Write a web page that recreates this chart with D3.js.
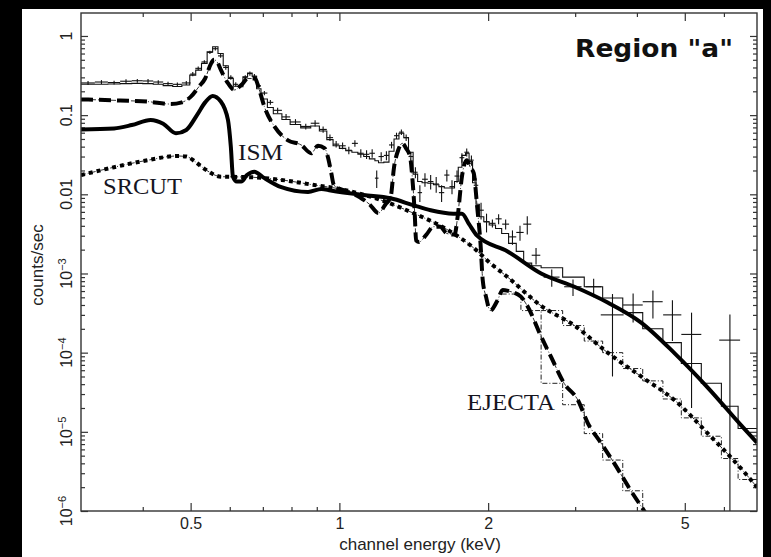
<!DOCTYPE html>
<html>
<head>
<meta charset="utf-8">
<script src="https://cdn.jsdelivr.net/npm/d3@7"></script>
<style>
  html, body { margin: 0; padding: 0; background: #000; }
  svg { display: block; }
</style>
</head>
<body>
<div id="chart"></div>
<script>
// observed spectrum: [energy keV, half bin width, counts/sec, error]
const dataPoints = [
  [0.31, 0.01, 0.255, 0.015], [0.33, 0.01, 0.262, 0.015], [0.35, 0.01, 0.258, 0.014],
  [0.37, 0.01, 0.268, 0.015], [0.39, 0.01, 0.272, 0.015], [0.41, 0.01, 0.270, 0.015],
  [0.43, 0.01, 0.262, 0.014], [0.45, 0.01, 0.250, 0.014], [0.47, 0.01, 0.245, 0.014],
  [0.49, 0.01, 0.255, 0.014], [0.505, 0.006, 0.33, 0.02], [0.518, 0.007, 0.39, 0.02],
  [0.533, 0.007, 0.47, 0.025], [0.547, 0.007, 0.62, 0.03], [0.561, 0.007, 0.69, 0.035],
  [0.575, 0.007, 0.56, 0.03], [0.589, 0.007, 0.40, 0.025], [0.603, 0.007, 0.30, 0.02],
  [0.617, 0.007, 0.245, 0.015], [0.631, 0.007, 0.235, 0.015], [0.645, 0.007, 0.30, 0.02],
  [0.659, 0.007, 0.335, 0.02], [0.673, 0.007, 0.31, 0.02], [0.687, 0.007, 0.235, 0.015],
  [0.705, 0.01, 0.19, 0.012], [0.725, 0.01, 0.145, 0.01], [0.75, 0.015, 0.115, 0.009],
  [0.78, 0.015, 0.095, 0.008], [0.815, 0.02, 0.082, 0.007], [0.855, 0.02, 0.072, 0.006],
  [0.893, 0.018, 0.079, 0.007], [0.927, 0.016, 0.066, 0.006], [0.957, 0.014, 0.052, 0.005],
  [0.985, 0.014, 0.043, 0.004], [1.015, 0.015, 0.041, 0.004], [1.045, 0.015, 0.036, 0.004],
  [1.075, 0.015, 0.044, 0.004], [1.105, 0.015, 0.033, 0.004], [1.135, 0.015, 0.032, 0.004],
  [1.165, 0.015, 0.033, 0.004], [1.19, 0.01, 0.016, 0.004], [1.215, 0.015, 0.030, 0.004],
  [1.245, 0.015, 0.031, 0.004], [1.275, 0.015, 0.042, 0.004], [1.305, 0.015, 0.055, 0.005],
  [1.335, 0.015, 0.061, 0.005], [1.365, 0.015, 0.052, 0.005], [1.395, 0.015, 0.030, 0.004],
  [1.425, 0.015, 0.019, 0.003], [1.455, 0.015, 0.0105, 0.0025], [1.49, 0.02, 0.0155, 0.003],
  [1.53, 0.02, 0.0145, 0.003], [1.57, 0.02, 0.0135, 0.003], [1.61, 0.02, 0.0105, 0.0025],
  [1.65, 0.02, 0.0175, 0.003], [1.69, 0.02, 0.0125, 0.0025], [1.73, 0.02, 0.017, 0.003],
  [1.77, 0.02, 0.029, 0.004], [1.81, 0.02, 0.034, 0.004], [1.85, 0.02, 0.027, 0.004],
  [1.89, 0.02, 0.013, 0.003], [1.935, 0.025, 0.0063, 0.0015], [1.985, 0.025, 0.0045, 0.0012],
  [2.04, 0.03, 0.0043, 0.0005], [2.10, 0.03, 0.0049, 0.0007], [2.17, 0.035, 0.0042, 0.0006],
  [2.24, 0.04, 0.0029, 0.0006], [2.32, 0.04, 0.0033, 0.0007], [2.40, 0.045, 0.0042, 0.0011],
  [2.50, 0.05, 0.0017, 0.0004], [2.69, 0.10, 0.0009, 0.00022], [2.97, 0.12, 0.00068, 0.00016],
  [3.27, 0.12, 0.00068, 0.00018], [3.57, 0.19, 0.0003, 0.00025], [3.93, 0.18, 0.0004, 0.00016],
  [4.31, 0.2, 0.00044, 0.00017], [4.72, 0.2, 0.0003, 0.00016], [5.16, 0.24, 0.00017, 0.00015],
  [6.17, 0.3, 0.000144, 0.00016]
];

// folded total model, histogram
const modelEdges = [
  0.30, 0.32, 0.34, 0.36, 0.38, 0.40, 0.42, 0.44, 0.46, 0.48,
  0.498, 0.512, 0.526, 0.54, 0.554, 0.568, 0.582, 0.596, 0.61, 0.624, 0.638, 0.652, 0.666, 0.68, 0.694,
  0.715, 0.735, 0.765, 0.795, 0.835, 0.875, 0.911, 0.943, 0.971, 1.0,
  1.03, 1.06, 1.09, 1.12, 1.15, 1.18, 1.20, 1.23, 1.26, 1.29,
  1.32, 1.35, 1.38, 1.41, 1.44, 1.47, 1.51, 1.55, 1.59, 1.63,
  1.67, 1.71, 1.74, 1.77, 1.80, 1.83, 1.86, 1.89, 1.92, 1.96,
  2.01, 2.07, 2.13, 2.20, 2.28, 2.36, 2.45, 2.56,
  2.83, 3.13, 3.41, 3.745, 4.11, 4.515, 4.92, 5.40, 5.93, 6.41, 7.0
];
const modelValues = [
  0.245, 0.245, 0.247, 0.250, 0.252, 0.250, 0.245, 0.236, 0.230, 0.240,
  0.32, 0.37, 0.45, 0.63, 0.73, 0.60, 0.42, 0.29, 0.232, 0.228, 0.305, 0.34, 0.31, 0.215,
  0.16, 0.125, 0.104, 0.088, 0.076, 0.069, 0.073, 0.063, 0.049, 0.041,
  0.038, 0.0355, 0.034, 0.032, 0.030, 0.028, 0.0265, 0.025, 0.0255, 0.035,
  0.050, 0.059, 0.052, 0.034, 0.018, 0.0145, 0.014, 0.0138, 0.0132, 0.0125,
  0.012, 0.012, 0.0145, 0.022, 0.031, 0.033, 0.026, 0.014, 0.0075, 0.0052,
  0.0045, 0.0041, 0.0037, 0.0032, 0.0024, 0.0019, 0.00135, 0.00125,
  0.00118, 0.0009, 0.00068, 0.00049, 0.00032, 0.0002, 0.000134, 0.000073, 0.000041, 0.000021, 0.000011
];

// model components: [energy keV, counts/sec]
const ismCurve = [
  [0.30, 0.066], [0.35, 0.068], [0.38, 0.075], [0.415, 0.087], [0.44, 0.078], [0.467, 0.059],
  [0.49, 0.065], [0.515, 0.10], [0.535, 0.145], [0.554, 0.175], [0.575, 0.15], [0.595, 0.087],
  [0.603, 0.04], [0.609, 0.0167], [0.62, 0.0145], [0.633, 0.0145], [0.65, 0.0175], [0.673, 0.0193],
  [0.70, 0.0165], [0.763, 0.0123], [0.864, 0.0107], [0.92, 0.0117], [0.96, 0.0112], [1.12, 0.0098],
  [1.27, 0.0089], [1.41, 0.0073], [1.53, 0.0063], [1.70, 0.0057], [1.77, 0.0057], [1.83, 0.0042],
  [1.90, 0.0030], [2.19, 0.0019], [2.56, 0.001], [2.99, 0.00068], [3.49, 0.00043], [4.08, 0.00024],
  [4.77, 0.000098], [5.57, 0.000036], [6.51, 0.000012], [7.0, 0.0000073]
];
const ejectaCurve = [
  [0.30, 0.158], [0.36, 0.153], [0.41, 0.148], [0.456, 0.138], [0.48, 0.145], [0.50, 0.170],
  [0.52, 0.23], [0.535, 0.29], [0.55, 0.45], [0.558, 0.50], [0.567, 0.46], [0.576, 0.37],
  [0.595, 0.253], [0.613, 0.208], [0.633, 0.24], [0.653, 0.29], [0.674, 0.29], [0.69, 0.20],
  [0.705, 0.128], [0.74, 0.071], [0.787, 0.048], [0.837, 0.042], [0.877, 0.033], [0.905, 0.041],
  [0.934, 0.038], [0.95, 0.028], [0.963, 0.0185], [0.975, 0.013], [1.03, 0.011], [1.10, 0.0092],
  [1.15, 0.0075], [1.20, 0.0058], [1.24, 0.0075], [1.27, 0.0093], [1.29, 0.022], [1.315, 0.036],
  [1.34, 0.044], [1.365, 0.038], [1.39, 0.030], [1.405, 0.016], [1.42, 0.006], [1.43, 0.0026],
  [1.45, 0.0025], [1.50, 0.0031], [1.55, 0.0039], [1.60, 0.0039], [1.65, 0.0032], [1.71, 0.0031],
  [1.735, 0.0052], [1.77, 0.0167], [1.81, 0.027], [1.84, 0.022], [1.87, 0.0185], [1.90, 0.007],
  [1.93, 0.0024], [1.95, 0.00083], [1.98, 0.00051], [2.02, 0.00034], [2.09, 0.00046], [2.14, 0.00062],
  [2.20, 0.0006], [2.33, 0.00051], [2.40, 0.00039], [2.56, 0.00016], [2.68, 0.000089], [2.85, 0.000041],
  [3.04, 0.000025], [3.18, 0.000013], [3.38, 0.0000073], [3.60, 0.000004], [3.89, 0.0000018],
  [4.14, 0.000001], [4.3, 0.0000007]
];
const srcutCurve = [
  [0.30, 0.0175], [0.35, 0.022], [0.41, 0.027], [0.47, 0.0305], [0.49, 0.030], [0.51, 0.026],
  [0.533, 0.021], [0.576, 0.0167], [0.653, 0.0165], [0.763, 0.0152], [0.89, 0.0131], [0.994, 0.0118],
  [1.21, 0.0085], [1.41, 0.0058], [1.65, 0.0036], [1.87, 0.0021], [2.02, 0.00135], [2.19, 0.0009],
  [2.56, 0.00039], [2.99, 0.00022], [3.49, 0.0001], [4.08, 0.00005], [4.77, 0.000025],
  [5.57, 0.0000095], [6.51, 0.0000034], [7.0, 0.000002]
];

// folded component histograms (thin dash-dot)
const ejectaStepEdges = [2.13, 2.33, 2.56, 2.83, 3.13, 3.41, 3.745, 4.11, 4.515];
const ejectaStepValues = [0.00055, 0.00034, 0.000041, 0.000022, 0.0000095, 0.0000044, 0.0000018, 0.0000005];
const srcutStepEdges = [2.56, 2.83, 3.13, 3.41, 3.745, 4.11, 4.515, 4.92, 5.40, 5.93, 6.41, 7.0];
const srcutStepValues = [0.00034, 0.00022, 0.00014, 0.0001, 0.000063, 0.000044, 0.000026, 0.000015, 0.0000088, 0.0000046, 0.0000025];

const xMajorTicks = [0.5, 1, 2, 5];
const xMinorTicks = [0.4, 0.6, 0.7, 0.8, 0.9, 3, 4, 6];
const yMajorTicks = [1, 0.1, 0.01, 1e-3, 1e-4, 1e-5, 1e-6];
const yTickBase = ["1", "0.1", "0.01", "10", "10", "10", "10"];
const yTickExp = ["", "", "", "\u22123", "\u22124", "\u22125", "\u22126"];

const W = 771, H = 557;
const margin = { top: 13, right: 14, bottom: 46, left: 81 };
const width = W - margin.left - margin.right;
const height = H - margin.top - margin.bottom;
const sans = "'Liberation Sans', Arial, sans-serif";
const serif = "'Liberation Serif', 'Times New Roman', serif";

const svg = d3.select("#chart").append("svg")
  .attr("width", W)
  .attr("height", H);

svg.append("rect").attr("width", W).attr("height", H).attr("fill", "#000");
svg.append("rect").attr("x", 22).attr("y", 9).attr("width", 741).attr("height", 548).attr("fill", "#fff");

const g = svg.append("g").attr("transform", `translate(${margin.left},${margin.top})`);

const x = d3.scaleLog().domain([0.3, 7]).range([0, width]);
const y = d3.scaleLog().domain([1e-6, 1.95]).range([height, 0]);

g.append("clipPath").attr("id", "plot-clip")
  .append("rect").attr("width", width).attr("height", height);

// minor y ticks 2..9 per decade
const yMinorTicks = [];
for (let e = -6; e <= 0; e++) {
  for (let m = 2; m <= 9; m++) {
    const v = m * Math.pow(10, e);
    if (v < 1.95) yMinorTicks.push(v);
  }
}

function tickAxis(axis, transform) {
  const a = g.append("g")
    .attr("transform", transform)
    .style("color", "#333")
    .call(axis);
  a.select(".domain").remove();
  a.selectAll(".tick line").attr("stroke-width", 1.2);
  return a;
}

const xAxis = tickAxis(d3.axisBottom(x).tickValues(xMajorTicks).tickSize(-8).tickSizeOuter(0)
  .tickPadding(7).tickFormat(d3.format("")), `translate(0,${height})`);
xAxis.selectAll("text")
  .style("font-family", sans)
  .style("font-size", "16px")
  .attr("fill", "#222");
tickAxis(d3.axisBottom(x).tickValues(xMinorTicks).tickSize(-4).tickFormat(""), `translate(0,${height})`);
tickAxis(d3.axisTop(x).tickValues(xMajorTicks).tickSize(-8).tickFormat(""), "translate(0,0)");
tickAxis(d3.axisTop(x).tickValues(xMinorTicks).tickSize(-4).tickFormat(""), "translate(0,0)");
tickAxis(d3.axisLeft(y).tickValues(yMajorTicks).tickSize(-7).tickFormat(""), "translate(0,0)");
tickAxis(d3.axisLeft(y).tickValues(yMinorTicks).tickSize(-4).tickFormat(""), "translate(0,0)");
tickAxis(d3.axisRight(y).tickValues(yMajorTicks).tickSize(-7).tickFormat(""), `translate(${width},0)`);
tickAxis(d3.axisRight(y).tickValues(yMinorTicks).tickSize(-4).tickFormat(""), `translate(${width},0)`);

// rotated y tick labels
yMajorTicks.forEach((v, i) => {
  const t = g.append("text")
    .attr("transform", `translate(-9.5,${y(v)}) rotate(-90)`)
    .attr("text-anchor", "middle")
    .style("font-family", sans)
    .style("font-size", "16px")
    .attr("fill", "#222");
  t.append("tspan").text(yTickBase[i]);
  if (yTickExp[i]) {
    t.append("tspan").attr("dy", "-0.5em").style("font-size", "11px").text(yTickExp[i]);
  }
});

g.append("text")
  .attr("transform", `translate(-38,${height / 2 + 3}) rotate(-90)`)
  .attr("text-anchor", "middle")
  .style("font-family", sans)
  .style("font-size", "17px")
  .attr("fill", "#222")
  .text("counts/sec");

g.append("text")
  .attr("x", width / 2 + 1)
  .attr("y", height + 39)
  .attr("text-anchor", "middle")
  .style("font-family", sans)
  .style("font-size", "17px")
  .attr("fill", "#222")
  .text("channel energy (keV)");

const plot = g.append("g").attr("clip-path", "url(#plot-clip)");

function stepPoints(edges, values) {
  const pts = [];
  values.forEach((v, i) => {
    pts.push([edges[i], v]);
    pts.push([edges[i + 1], v]);
  });
  return pts;
}

const straight = d3.line().x(d => x(d[0])).y(d => y(d[1]));
const smooth = d3.line().x(d => x(d[0])).y(d => y(d[1])).curve(d3.curveMonotoneX);

// total model histogram
plot.append("path")
  .attr("d", straight(stepPoints(modelEdges, modelValues)))
  .attr("fill", "none")
  .attr("stroke", "#111")
  .attr("stroke-width", 1.1);

// data crosses
const crosses = plot.selectAll(".cross").data(dataPoints).enter().append("g").attr("class", "cross");
crosses.append("line")
  .attr("x1", d => x(d[0] - d[1]))
  .attr("x2", d => x(d[0] + d[1]))
  .attr("y1", d => y(d[2]))
  .attr("y2", d => y(d[2]))
  .attr("stroke", "#111")
  .attr("stroke-width", 1.1);
crosses.append("line")
  .attr("x1", d => x(d[0]))
  .attr("x2", d => x(d[0]))
  .attr("y1", d => y(d[2] + d[3]))
  .attr("y2", d => (d[2] - d[3] > 1e-6 ? y(d[2] - d[3]) : height))
  .attr("stroke", "#111")
  .attr("stroke-width", 1.1);

// thin folded component steps
[[ejectaStepEdges, ejectaStepValues], [srcutStepEdges, srcutStepValues]].forEach(([e, v]) => {
  plot.append("path")
    .attr("d", straight(stepPoints(e, v)))
    .attr("fill", "none")
    .attr("stroke", "#222")
    .attr("stroke-width", 1)
    .attr("stroke-dasharray", "5,2,1,2");
});

// thin guide lines under the thick broken components
[ejectaCurve, srcutCurve].forEach(c => {
  plot.append("path")
    .attr("d", smooth(c))
    .attr("fill", "none")
    .attr("stroke", "#333")
    .attr("stroke-width", 1)
    .attr("stroke-dasharray", "5,2,1,2");
});

plot.append("path")
  .attr("d", smooth(ismCurve))
  .attr("fill", "none")
  .attr("stroke", "#000")
  .attr("stroke-width", 4);

plot.append("path")
  .attr("d", smooth(ejectaCurve))
  .attr("fill", "none")
  .attr("stroke", "#000")
  .attr("stroke-width", 4)
  .attr("stroke-dasharray", "12,6");

plot.append("path")
  .attr("d", smooth(srcutCurve))
  .attr("fill", "none")
  .attr("stroke", "#000")
  .attr("stroke-width", 4)
  .attr("stroke-dasharray", "4,4");

// frame
g.append("rect")
  .attr("width", width)
  .attr("height", height)
  .attr("fill", "none")
  .attr("stroke", "#333")
  .attr("stroke-width", 1.4);

// labels
g.append("text")
  .attr("x", 494).attr("y", 44)
  .attr("textLength", 158).attr("lengthAdjust", "spacingAndGlyphs")
  .style("font-family", "'DejaVu Sans', sans-serif").style("font-size", "24px").style("font-weight", "bold")
  .attr("fill", "#111")
  .text('Region "a"');

[["SRCUT", 22, 181, 79], ["ISM", 157, 147, 45], ["EJECTA", 386, 397, 88]].forEach(([t, lx, ly, len]) => {
  g.append("text")
    .attr("x", lx).attr("y", ly)
    .attr("textLength", len).attr("lengthAdjust", "spacingAndGlyphs")
    .style("font-family", serif).style("font-size", "24px")
    .attr("fill", "#15151f")
    .text(t);
});
</script>
</body>
</html>
